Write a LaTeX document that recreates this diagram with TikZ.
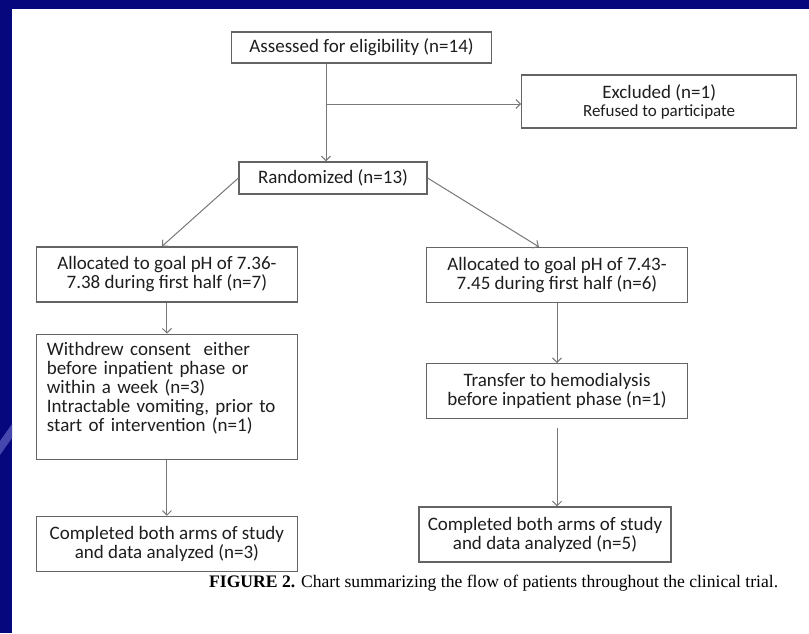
\documentclass[tikz,border=0pt]{standalone}
\usepackage{fontspec}
\setmainfont{Carlito}
\newfontfamily\capfont{Liberation Serif}
\usepackage{xcolor}
\usetikzlibrary{arrows.meta,positioning}
\definecolor{slidenavy}{RGB}{6,6,125}
\definecolor{slideswoosh}{RGB}{70,70,175}
\definecolor{boxline}{RGB}{100,100,100}
\definecolor{arrline}{RGB}{120,120,120}
\definecolor{boxtext}{RGB}{30,30,30}

\begin{document}
\begin{tikzpicture}[x=1pt,y=-1pt,
  node distance=30pt,
  box/.style={draw=boxline,line width=1.2pt,fill=white,text=boxtext,align=center,inner sep=0pt,
              minimum width=261pt,minimum height=55pt,font=\fontsize{19}{19}\selectfont},
  arr/.style={-{Straight Barb[length=4.5pt,width=9pt]},line width=1pt,color=arrline},
  lbl/.style={font=\capfont\fontsize{17.6}{20}\selectfont,text=black,anchor=base west,inner sep=0pt}
]
\useasboundingbox (0,0) rectangle (809,633);
\fill[slidenavy] (0,0) rectangle (809,633);
\fill[white] (12,9) rectangle (809,633);
\fill[slideswoosh] (0,455) -- (12,438) -- (12,424) -- (0,441) -- cycle;

\node[box,minimum width=260pt,minimum height=31pt] (asse) at (361.6,47.5) {Assessed for eligibility (n=14)};
\node[box,minimum width=275pt,minimum height=53pt] (excl) at (659.2,101.5)
  {Excluded (n=1)\\[-1pt]{\fontsize{17}{17}\selectfont Refused to participate}};
\node[box,minimum width=188pt,minimum height=32pt] (rand) at (333,178) {Randomized (n=13)};

\node[box] (lalloc) at (166.9,274.5) {Allocated to goal pH of 7.36-\\7.38 during first half (n=7)};
\node[box,below=31pt of lalloc,minimum height=125pt,text width=240pt,align=left] (lwith)
  {Withdrew consent\ \ either\\before inpatient phase or\\within a week (n=3)\\Intractable vomiting, prior to\\start of intervention (n=1)\\~};
\node[box,below=56pt of lwith] (lcomp) {Completed both arms of study\\and data analyzed (n=3)};

\node[box] (ralloc) at (557,275) {Allocated to goal pH of 7.43-\\7.45 during first half (n=6)};
\node[box,below=60pt of ralloc] (rtrans) {Transfer to hemodialysis\\before inpatient phase (n=1)};
\node[box,minimum width=252pt] (rcomp) at (545,534.5) {Completed both arms of study\\and data analyzed (n=5)};

\coordinate (split) at (326,104);
\draw[arr] (asse.south -| split) -- (rand.north -| split);
\draw[arr] (split) -- (split -| excl.west);
\draw[arr] (rand.west) -- ([xshift=-5pt]lalloc.north);
\draw[arr] (rand.east) -- ([xshift=-18pt]ralloc.north);
\draw[arr] (lalloc) -- (lwith);
\draw[arr] (lwith) -- (lcomp);
\draw[arr] (ralloc) -- (rtrans);
\draw[arr] ([yshift=-9pt]rtrans.south) -- (rcomp.north -| rtrans.south);

\node[lbl] (caption) at (209,587) {\textbf{FIGURE 2.} Chart summarizing the flow of patients throughout the clinical trial.};
\end{tikzpicture}
\end{document}
